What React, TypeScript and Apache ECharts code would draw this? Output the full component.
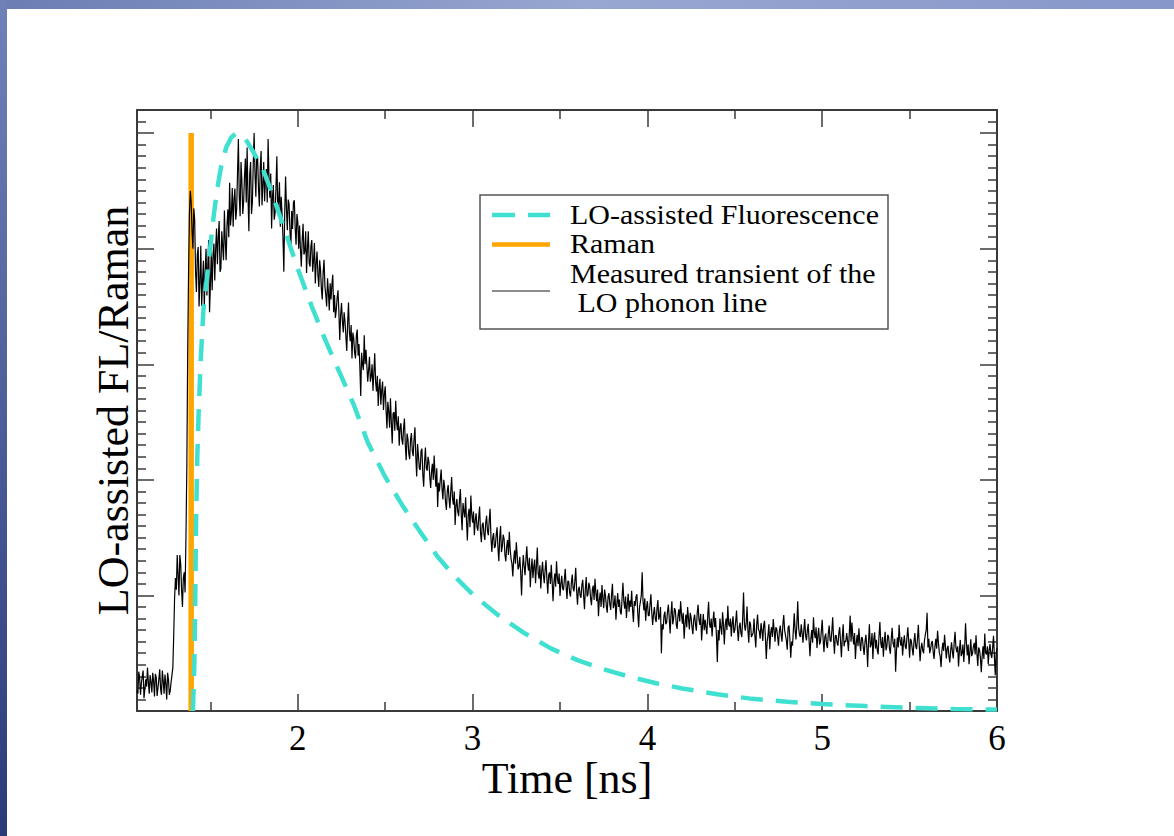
import React, { useEffect, useRef } from "react";
import * as echarts from "echarts";

// Measured transient of the LO phonon line, sampled every DT ns from T0
const T0 = 1.08;
const DT = 0.005;
const MEASURED = [
  35, 30, 68, 58, 28, 48, 60, 70, 22, 38, 55, 42, 75, 50, 30, 62, 50, 32, 66, 52,
  25, 64, 58, 26, 40, 55, 72, 38, 28, 70, 52, 30, 63, 47, 20, 66, 55, 28, 35, 50, 62, 75,
  130, 195, 230, 210, 270, 235, 200, 270, 255, 210, 180, 230, 240, 205, 300, 420, 620, 760,
  860, 900, 880, 830, 800, 870,
  850, 760, 725, 790, 803, 700, 743, 805, 701, 745, 779, 700, 761, 800, 719, 770, 815, 690, 737, 795,
  728, 790, 809, 745, 800, 835, 773, 820, 848, 760, 766, 830, 804, 780, 866, 812, 780, 842, 868, 820,
  914, 840, 861, 905, 838, 885, 904, 850, 868, 930, 990, 890, 856, 950, 917, 860, 882, 925, 956, 880,
  975, 890, 830, 930, 950, 860, 880, 945, 1000, 930, 890, 960, 957, 905, 873, 940, 969, 875, 910, 950,
  882, 920, 938, 880, 990, 925, 888, 930, 835, 890, 910, 850, 862, 905, 960, 870, 880, 915, 838, 890,
  859, 820, 760, 860, 925, 870, 832, 885, 877, 830, 800, 865, 834, 880, 884, 835, 807, 860, 846, 800,
  840, 800, 769, 815, 843, 790, 795, 830, 758, 800, 830, 775, 769, 805, 815, 760, 780, 810, 740, 775,
  795, 755, 734, 780, 763, 730, 712, 760, 781, 735, 720, 700, 749, 725, 693, 740, 712, 738, 755, 690,
  720, 680, 694, 715, 728, 690, 642, 685, 706, 675, 655, 690, 674, 648, 623, 670, 707, 655, 640, 668,
  610, 655, 645, 620, 610, 650, 660, 615, 635, 595, 545, 620, 600, 590, 650, 600, 625, 598, 570, 590,
  613, 570, 579, 600, 554, 585, 619, 570, 553, 580, 528, 560, 575, 530, 555, 570, 521, 548, 562, 520,
  489, 535, 519, 490, 541, 500, 463, 515, 517, 485, 537, 500, 486, 510, 459, 490, 498, 470, 461, 490,
  506, 460, 434, 480, 471, 445, 436, 470, 481, 450, 441, 470, 491, 440, 406, 462, 442, 420, 417, 450,
  454, 410, 388, 430, 456, 420, 416, 440, 431, 405, 386, 415, 428, 400, 442, 410, 388, 420, 353, 395,
  380, 400, 418, 385, 366, 400, 388, 362, 348, 380, 391, 368, 351, 380, 405, 368, 357, 380, 322, 355,
  367, 345, 337, 365, 384, 340, 313, 360, 346, 335, 370, 330, 295, 340, 350, 318, 373, 340, 326, 345,
  304, 330, 342, 318, 312, 335, 354, 310, 292, 322, 326, 305, 296, 325, 338, 312, 304, 330, 350, 300,
  275, 300, 308, 282, 285, 305, 318, 282, 259, 300, 320, 275, 285, 305, 298, 270, 259, 285, 296, 270,
  310, 280, 263, 255, 233, 262, 278, 255, 292, 270, 245, 250, 267, 240, 200, 245, 270, 250, 235, 262,
  285, 255, 243, 265, 214, 245, 264, 230, 250, 262, 221, 250, 283, 238, 229, 252, 212, 240, 258, 235,
  221, 245, 261, 228, 203, 235, 240, 220, 253, 225, 190, 222, 238, 215, 259, 230, 220, 238, 199, 220,
  234, 212, 209, 228, 246, 215, 194, 225, 224, 205, 198, 222, 236, 212, 207, 225, 248, 208, 184, 210,
  215, 200, 196, 218, 227, 200, 176, 212, 232, 198, 202, 222, 215, 195, 183, 210, 217, 192, 229, 205,
  190, 210, 164, 192, 205, 180, 218, 195, 178, 210, 200, 182, 170, 198, 204, 185, 175, 202, 220, 178,
  184, 200, 158, 185, 204, 180, 193, 172, 167, 195, 222, 190, 177, 198, 161, 185, 203, 172, 191, 180,
  208, 175, 154, 190, 182, 198, 202, 168, 145, 180, 189, 200, 240, 190, 174, 195, 156, 180, 190, 165,
  165, 185, 202, 170, 149, 168, 180, 160, 154, 178, 192, 158, 164, 180, 100, 150, 141, 165, 172, 150,
  153, 172, 184, 160, 134, 168, 190, 150, 160, 178, 174, 150, 142, 165, 176, 155, 190, 168, 151, 170,
  125, 150, 167, 145, 180, 160, 141, 170, 162, 145, 133, 158, 167, 150, 139, 170, 184, 158, 149, 168,
  122, 148, 168, 140, 158, 145, 133, 165, 189, 150, 144, 160, 129, 155, 172, 145, 161, 130, 85, 140,
  122, 160, 145, 132, 171, 150, 115, 148, 160, 140, 182, 150, 146, 160, 129, 152, 164, 135, 140, 155,
  174, 142, 121, 145, 153, 135, 128, 160, 205, 150, 139, 152, 181, 140, 118, 155, 150, 128, 132, 135,
  160, 130, 110, 148, 167, 142, 138, 125, 152, 140, 121, 148, 156, 128, 90, 120, 132, 150, 107, 135,
  145, 128, 159, 140, 120, 145, 142, 128, 113, 138, 148, 132, 120, 150, 166, 140, 131, 122, 106, 145,
  148, 125, 92, 120, 113, 140, 169, 140, 124, 150, 190, 145, 132, 128, 150, 135, 118, 140, 159, 130,
  122, 140, 151, 122, 95, 125, 140, 118, 162, 135, 126, 145, 109, 130, 144, 115, 120, 138, 158, 125,
  102, 128, 134, 115, 109, 135, 148, 122, 120, 138, 162, 125, 99, 130, 131, 118, 113, 135, 145, 120,
  93, 128, 150, 112, 121, 120, 135, 122, 104, 135, 165, 120, 153, 130, 115, 135, 90, 118, 132, 112,
  143, 118, 104, 128, 126, 110, 97, 120, 132, 112, 76, 120, 150, 110, 115, 135, 90, 125, 136, 108,
  123, 105, 98, 130, 154, 118, 109, 128, 94, 120, 137, 105, 112, 132, 128, 108, 99, 125, 144, 118,
  110, 125, 68, 105, 127, 110, 149, 122, 113, 128, 96, 118, 131, 112, 107, 128, 145, 120, 92, 125,
  121, 108, 96, 120, 135, 112, 107, 125, 149, 115, 86, 108, 118, 105, 100, 122, 132, 140, 170, 110,
  125, 100, 107, 118, 121, 102, 90, 112, 125, 108, 139, 118, 101, 95, 76, 105, 118, 104, 132, 112,
  91, 108, 113, 95, 84, 105, 119, 102, 91, 118, 137, 110, 102, 112, 77, 105, 123, 95, 100, 115,
  85, 110, 152, 118, 96, 115, 81, 102, 124, 95, 100, 112, 118, 98, 131, 100, 78, 110, 106, 92,
  67, 95, 112, 90, 134, 100, 98, 112, 81, 105, 116, 98, 92, 110, 130, 95, 62, 98, 109,
];

// LO-assisted fluorescence (model curve)
const FLUO_T = [
  1.4, 1.408, 1.413, 1.418, 1.425, 1.433, 1.445, 1.46, 1.48, 1.5, 1.52, 1.54, 1.56, 1.59,
  1.62, 1.65, 1.7, 1.75, 1.8, 1.86, 1.93, 2.0, 2.08, 2.16, 2.24, 2.32, 2.4, 2.5, 2.6, 2.7,
  2.8, 2.9, 3.0, 3.15, 3.3, 3.45, 3.6, 3.75, 3.9, 4.05, 4.2, 4.4, 4.6, 4.8, 5.0, 5.25, 5.5,
  5.75, 6.0,
];
const FLUO_V = [
  0, 80, 190, 330, 440, 520, 610, 694, 750, 805, 860, 905, 940, 975,
  993, 1000, 990, 965, 938, 890, 828, 765, 700, 640, 585, 530, 465, 405, 355, 310,
  267, 232, 202, 165, 134, 108, 88, 72, 59, 48, 39, 29, 21, 16, 12, 8.5, 5.5,
  3.5, 2.5,
];

// Raman line
const RAMAN_T = [1.39, 1.39];
const RAMAN_V = [0, 1000];

const X_MIN = 1.08;
const X_MAX = 6;
const Y_MIN = 0;
const Y_MAX = 1040;
const X_MAJOR = [2, 3, 4, 5, 6];
const X_LABELS = ["2", "3", "4", "5", "6"];
const X_MINOR = [1.5, 2.5, 3.5, 4.5, 5.5];
const Y_MAJOR = [200, 400, 600, 800, 1000];
const Y_MINOR = [
  20, 40, 60, 80, 100, 120, 140, 160, 180, 220, 240, 260, 280, 300, 320, 340, 360, 380,
  420, 440, 460, 480, 500, 520, 540, 560, 580, 620, 640, 660, 680, 700, 720, 740, 760, 780,
  820, 840, 860, 880, 900, 920, 940, 960, 980, 1020,
];

const X_TITLE = "Time [ns]";
const Y_TITLE = "LO-assisted FL/Raman";
const LEGEND_LABELS = [
  "LO-assisted Fluorescence",
  "Raman",
  "Measured transient of the",
  " LO phonon line",
];

const FONT = "Liberation Serif";
const FRAME = "#3a3a3a";
const CYAN = "#40e0d0";
const ORANGE = "#ffa500";

function xAxisDef(position: "bottom" | "top", major: boolean, withLabels: boolean) {
  return {
    type: "value",
    min: X_MIN,
    max: X_MAX,
    position,
    axisLine: { show: major, onZero: false, lineStyle: { color: FRAME, width: 2 } },
    axisTick: {
      show: true,
      inside: true,
      length: major ? 17 : 9,
      customValues: major ? X_MAJOR : X_MINOR,
      lineStyle: { color: FRAME, width: 1.5 },
    },
    axisLabel: withLabels
      ? {
          show: true,
          customValues: X_MAJOR,
          formatter: (v: number) => X_LABELS[X_MAJOR.indexOf(v)] ?? "",
          fontFamily: FONT,
          fontSize: 35,
          color: "#000",
          margin: 10,
        }
      : { show: false },
    splitLine: { show: false },
    ...(withLabels
      ? {
          name: X_TITLE,
          nameLocation: "middle",
          nameGap: 45,
          nameMoveOverlap: false,
          nameTextStyle: { fontFamily: FONT, fontSize: 44, color: "#000" },
        }
      : {}),
  };
}

function yAxisDef(position: "left" | "right", major: boolean, withName: boolean) {
  return {
    type: "value",
    min: Y_MIN,
    max: Y_MAX,
    position,
    axisLine: { show: major, onZero: false, lineStyle: { color: FRAME, width: 2 } },
    axisTick: {
      show: true,
      inside: true,
      length: major ? 17 : 9,
      customValues: major ? Y_MAJOR : Y_MINOR,
      lineStyle: { color: FRAME, width: 1.5 },
    },
    axisLabel: { show: false },
    splitLine: { show: false },
    ...(withName
      ? {
          name: Y_TITLE,
          nameLocation: "middle",
          nameGap: 2,
          nameMoveOverlap: false,
          nameTextStyle: { fontFamily: FONT, fontSize: 44, color: "#000" },
        }
      : {}),
  };
}

export default function App() {
  const ref = useRef<HTMLDivElement>(null);

  useEffect(() => {
    if (!ref.current) return;
    const chart = echarts.init(ref.current, undefined, { renderer: "svg" });

    const measured = MEASURED.map((v, i) => [Number((T0 + i * DT).toFixed(3)), v]);
    const fluo = FLUO_T.map((t, i) => [t, FLUO_V[i]]);
    const raman = RAMAN_T.map((t, i) => [t, RAMAN_V[i]]);

    const LX = 480;
    const LY = 195;
    const ROW_H = 29.5;
    const firstRow = 215;

    chart.setOption({
      animation: false,
      backgroundColor: "#ffffff",
      grid: { left: 137, right: 177, top: 110, bottom: 125, containLabel: false },
      xAxis: [
        xAxisDef("bottom", true, true),
        xAxisDef("bottom", false, false),
        xAxisDef("top", true, false),
        xAxisDef("top", false, false),
      ],
      yAxis: [
        yAxisDef("left", true, true),
        yAxisDef("left", false, false),
        yAxisDef("right", true, false),
        yAxisDef("right", false, false),
      ],
      series: [
        {
          name: "Raman",
          type: "line",
          data: raman,
          xAxisIndex: 0,
          yAxisIndex: 0,
          showSymbol: false,
          symbol: "none",
          lineStyle: { color: ORANGE, width: 5.5 },
          z: 2,
        },
        {
          name: "Measured transient of the LO phonon line",
          type: "line",
          data: measured,
          xAxisIndex: 0,
          yAxisIndex: 0,
          showSymbol: false,
          symbol: "none",
          lineStyle: { color: "#000000", width: 1.2 },
          z: 3,
        },
        {
          name: "LO-assisted Fluorescence",
          type: "line",
          data: fluo,
          xAxisIndex: 0,
          yAxisIndex: 0,
          showSymbol: false,
          symbol: "none",
          lineStyle: { color: CYAN, width: 4.5, type: [22, 13] },
          z: 4,
        },
      ],
      graphic: [
        {
          type: "rect",
          shape: { x: 0, y: 0, width: 1174, height: 9 },
          style: {
            fill: new echarts.graphic.LinearGradient(0, 0, 1, 0, [
              { offset: 0, color: "#6b7db4" },
              { offset: 0.5, color: "#98a7d1" },
              { offset: 1, color: "#8797ca" },
            ]),
          },
          z: 10,
        },
        {
          type: "rect",
          shape: { x: 0, y: 0, width: 7, height: 836 },
          style: {
            fill: new echarts.graphic.LinearGradient(0, 0, 0, 1, [
              { offset: 0, color: "#6f82b8" },
              { offset: 1, color: "#2a3b7a" },
            ]),
          },
          z: 10,
        },
        {
          type: "group",
          z: 20,
          children: [
            {
              type: "rect",
              shape: { x: LX, y: LY, width: 408, height: 134 },
              style: { fill: "#ffffff", stroke: "#555555", lineWidth: 1.5 },
            },
            {
              type: "line",
              shape: { x1: 492, y1: firstRow, x2: 550, y2: firstRow },
              style: { stroke: CYAN, lineWidth: 4.5, lineDash: [23, 13] },
            },
            {
              type: "line",
              shape: { x1: 492, y1: firstRow + ROW_H, x2: 550, y2: firstRow + ROW_H },
              style: { stroke: ORANGE, lineWidth: 4.5 },
            },
            {
              type: "line",
              shape: { x1: 492, y1: 291, x2: 550, y2: 291 },
              style: { stroke: "#666666", lineWidth: 1.5 },
            },
            ...LEGEND_LABELS.map((label, i) => ({
              type: "text",
              x: 570,
              y: firstRow + i * ROW_H,
              scaleY: 0.88,
              style: {
                text: label,
                font: "30px 'Liberation Serif'",
                fill: "#000",
                textAlign: "left",
                textVerticalAlign: "middle",
              },
            })),
          ],
        },
      ],
    });

    return () => chart.dispose();
  }, []);

  return (
    <div
      ref={ref}
      style={{ position: "fixed", left: 0, top: 0, width: 1174, height: 836, background: "#fff" }}
    />
  );
}
